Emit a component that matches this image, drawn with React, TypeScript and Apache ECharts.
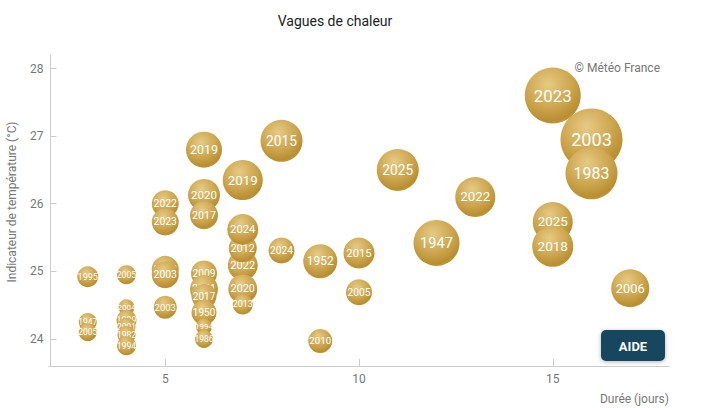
import React, { useEffect, useRef } from "react";
import * as echarts from "echarts";

const durees = [3, 3, 3, 4, 4, 4, 4, 4, 4, 5, 5, 5, 5, 5, 6, 6, 6, 6, 6, 6, 6, 6, 6, 7, 7, 7, 7, 7, 7, 8, 8, 9, 9, 10, 10, 11, 12, 13, 15, 15, 15, 16, 16, 17];
const temperatures = [24.92, 24.25, 24.1, 24.95, 24.47, 24.28, 24.18, 24.06, 23.9, 26.0, 25.73, 25.03, 24.95, 24.47, 26.8, 26.13, 25.83, 24.97, 24.74, 24.63, 24.39, 24.18, 24.0, 26.35, 25.09, 25.34, 25.62, 24.74, 24.51, 26.93, 25.31, 25.15, 23.97, 25.27, 24.69, 26.5, 25.42, 26.1, 27.6, 25.73, 25.37, 26.95, 26.45, 24.75];
const annees = ["1995", "1947", "2005", "2005", "2004", "1999", "2001", "1982", "1994", "2022", "2023", "2022", "2003", "2003", "2019", "2020", "2017", "2009", "2021", "2017", "1950", "1994", "1986", "2019", "2022", "2012", "2024", "2020", "2013", "2015", "2024", "1952", "2010", "2015", "2005", "2025", "1947", "2022", "2023", "2025", "2018", "2003", "1983", "2006"];
const severites = [21, 18, 18, 19, 16, 20, 18, 18, 19, 27, 27, 27, 27, 23, 36, 32, 28, 26, 28, 25, 25, 16, 18, 40, 30, 28, 31, 29, 20, 42, 26, 34, 24, 31, 26, 42, 46, 40, 56, 40, 41, 62, 52, 38];

const ticksX = [5, 10, 15];
const ticksY = [24, 25, 26, 27, 28];

const gold = {
  type: "radial",
  x: 0.42,
  y: 0.3,
  r: 0.75,
  colorStops: [
    { offset: 0, color: "#e6ca84" },
    { offset: 0.55, color: "#cda64f" },
    { offset: 0.88, color: "#b88e31" },
    { offset: 1, color: "#c7a043" },
  ],
};

export default function App() {
  const chartRef = useRef<HTMLDivElement>(null);

  useEffect(() => {
    const chart = echarts.init(chartRef.current, null, { renderer: "svg" });
    chart.setOption({
      animation: false,
      textStyle: { fontFamily: "Roboto" },
      title: {
        text: "Vagues de chaleur",
        left: 330,
        top: 9,
        textAlign: "center",
        textStyle: { fontSize: 14, fontWeight: "normal", color: "#222222" },
      },
      grid: { left: 49, right: 51, top: 55, bottom: 42, outerBoundsMode: "none" },
      xAxis: {
        type: "value",
        min: 2,
        max: 18,
        interval: 1,
        name: "Durée (jours)",
        nameLocation: "end",
        nameGap: 0,
        nameTextStyle: { color: "#777777", fontSize: 12, align: "right", verticalAlign: "top", padding: [27, 0, 0, 0] },
        splitLine: { show: false },
        axisLine: { lineStyle: { color: "#cccccc" } },
        axisTick: { show: true, inside: true, length: 7, customValues: ticksX, lineStyle: { color: "#cccccc" } },
        axisLabel: { color: "#777777", fontSize: 12, margin: 7, customValues: ticksX },
      },
      yAxis: {
        type: "value",
        min: 23.6,
        max: 28.2,
        offset: -1.5,
        name: "Indicateur de température (°C)",
        nameLocation: "middle",
        nameGap: 33,
        nameTextStyle: { color: "#777777", fontSize: 12, padding: [0, 0, 0, 17] },
        splitLine: { show: false },
        axisLine: { show: true, lineStyle: { color: "#cccccc" } },
        axisTick: { show: true, inside: true, length: 6, customValues: ticksY, lineStyle: { color: "#cccccc" } },
        axisLabel: { color: "#777777", fontSize: 12, margin: 7, customValues: ticksY },
      },
      // une série par bulle : les bulles suivantes recouvrent aussi les textes
      series: durees.map((d, i) => ({
        type: "scatter",
        z: 2 + i,
        symbolSize: severites[i],
        data: [{ value: [d, temperatures[i]], name: annees[i] }],
        itemStyle: { color: gold, opacity: 1 },
        label: {
          show: true,
          position: "inside",
          color: "#ffffff",
          fontSize: 4.5 + 0.22 * severites[i],
          formatter: "{b}",
        },
      })),
      graphic: [
        {
          type: "text",
          right: 60,
          top: 62,
          z: 100,
          style: { text: "© Météo France", fill: "#777777", font: "12px Roboto" },
        },
        {
          type: "group",
          left: 601,
          top: 330,
          z: 100,
          children: [
            {
              type: "rect",
              z: 100,
              shape: { x: 0, y: 0, width: 64, height: 31, r: 5 },
              style: { fill: "#12465e", shadowBlur: 4, shadowColor: "rgba(0,0,0,0.3)", shadowOffsetY: 1 },
            },
            {
              type: "text",
              z: 101,
              x: 32,
              y: 16,
              style: { text: "AIDE", fill: "#ffffff", font: "bold 13px Roboto", align: "center", verticalAlign: "middle" },
            },
          ],
        },
      ],
    });

    return () => {
      chart.dispose();
    };
  }, []);

  return <div ref={chartRef} style={{ position: "absolute", left: 0, top: 0, width: 720, height: 408 }}></div>;
}
